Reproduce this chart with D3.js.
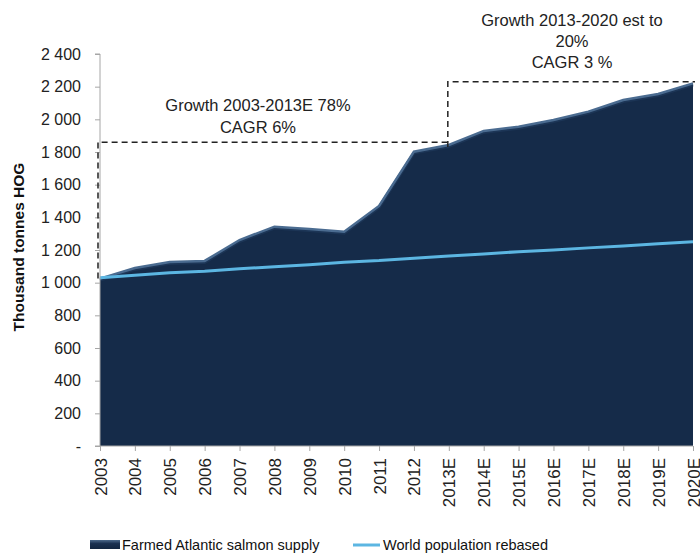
<!DOCTYPE html>
<html>
<head>
<meta charset="utf-8">
<script src="https://cdn.jsdelivr.net/npm/d3@7"></script>
<style>
body { margin: 0; background: #fff; }
svg { font-family: "Liberation Sans", Arial, sans-serif; }
</style>
</head>
<body>
<svg class="chart"></svg>
<script>
var width = 700;
var height = 553;

var margin = {
    top: 54,
    right: 7,
    bottom: 107,
    left: 100
};

var years = ["2003", "2004", "2005", "2006", "2007", "2008", "2009", "2010", "2011", "2012",
    "2013E", "2014E", "2015E", "2016E", "2017E", "2018E", "2019E", "2020E"];
var salmon = [1025, 1090, 1127, 1133, 1261, 1343, 1329, 1312, 1470, 1802,
    1843, 1929, 1955, 1996, 2047, 2118, 2155, 2220];
var population = [1030, 1045, 1060, 1070, 1085, 1098, 1110, 1125, 1135, 1150,
    1163, 1175, 1190, 1200, 1213, 1225, 1238, 1250];
var yTicks = [0, 200, 400, 600, 800, 1000, 1200, 1400, 1600, 1800, 2000, 2200, 2400];
var yTickLabels = ["-", "200", "400", "600", "800", "1 000", "1 200", "1 400", "1 600", "1 800", "2 000", "2 200", "2 400"];
// growth boxes: [start year, end year, level]
var boxes = [["2003", "2013E", 1860], ["2013E", "2020E", 2230]];
var notes1 = ["Growth 2003-2013E 78%", "CAGR 6%"];
var notes2 = ["Growth 2013-2020 est to", "20%", "CAGR 3 %"];
var legendNames = ["Farmed Atlantic salmon supply", "World population rebased"];

var chart = d3.select(".chart")
    .attr("width", width)
    .attr("height", height);

var x = d3.scalePoint()
    .domain(years)
    .range([margin.left, width - margin.right]);

var y = d3.scaleLinear()
    .domain([0, 2400])
    .range([height - margin.bottom, margin.top]);

var defs = chart.append("defs");
var grad = defs.append("linearGradient")
    .attr("id", "swatch")
    .attr("x1", 0).attr("y1", 0).attr("x2", 0).attr("y2", 1);
grad.append("stop").attr("offset", "0%").attr("stop-color", "#4d6a8c");
grad.append("stop").attr("offset", "40%").attr("stop-color", "#1a3050");
grad.append("stop").attr("offset", "100%").attr("stop-color", "#122540");

var area = d3.area()
    .x(function(d, i) { return x(years[i]); })
    .y0(y(0))
    .y1(function(d) { return y(d); });

var line = d3.line()
    .x(function(d, i) { return x(years[i]); })
    .y(function(d) { return y(d); });

chart.append("path")
    .datum(salmon)
    .attr("d", area)
    .attr("fill", "#152b49");

// bevel highlight on top edge
chart.append("path")
    .datum(salmon.map(function(d) { return d - 9; }))
    .attr("d", line)
    .attr("fill", "none")
    .attr("stroke", "#1c3556")
    .attr("stroke-width", 3);
chart.append("path")
    .datum(salmon)
    .attr("d", line)
    .attr("fill", "none")
    .attr("stroke", "#4a6b90")
    .attr("stroke-width", 2.5);

chart.append("path")
    .datum(population)
    .attr("d", line)
    .attr("fill", "none")
    .attr("stroke", "#5cb6e2")
    .attr("stroke-width", 3);

// y axis
var yAxis = d3.axisLeft(y)
    .tickValues(yTicks)
    .tickSize(5)
    .tickPadding(14)
    .tickFormat(function(d, i) { return yTickLabels[i]; });

var gy = chart.append("g")
    .attr("transform", "translate(" + margin.left + ",0)")
    .call(yAxis);
gy.select(".domain").attr("stroke", "#a6a6a6").attr("d", "M-5," + y(2400) + "H0V" + y(0) + "H-5");
gy.selectAll(".tick line").attr("stroke", "#a6a6a6");
gy.selectAll(".tick text")
    .attr("fill", "#222")
    .style("font-size", "16px");

// x axis
var xAxis = d3.axisBottom(x)
    .tickSize(5)
    .tickPadding(6);

var gx = chart.append("g")
    .attr("transform", "translate(0," + y(0) + ")")
    .call(xAxis);
gx.select(".domain").attr("stroke", "#a6a6a6").attr("d", "M" + margin.left + ",0H" + (width - margin.right));
gx.selectAll(".tick line").attr("stroke", "#a6a6a6");
gx.selectAll(".tick text")
    .attr("fill", "#222")
    .style("font-size", "17px")
    .attr("text-anchor", "end")
    .attr("dy", null)
    .attr("transform", "translate(0,12) rotate(-90)")
    .attr("x", 0)
    .attr("y", 6);

// y title
chart.append("text")
    .attr("transform", "translate(24," + 247 + ") rotate(-90)")
    .attr("text-anchor", "middle")
    .style("font-size", "15.5px")
    .style("font-weight", "bold")
    .attr("fill", "#111")
    .text("Thousand tonnes HOG");

// growth boxes
boxes.forEach(function(b, i) {
    var x0 = x(b[0]) - (i === 0 ? 2 : 1);
    var x1 = x(b[1]) + (i === 0 ? 1 : 2);
    var yBase = i === 0 ? y(salmon[0]) : y(salmon[10]) + 2;
    chart.append("path")
        .attr("d", "M" + x0 + "," + yBase + "V" + y(b[2]) + "H" + x1)
        .attr("fill", "none")
        .attr("stroke", "#222")
        .attr("stroke-width", 1.5)
        .attr("stroke-dasharray", "6,4");
});

var t1 = chart.append("text")
    .attr("text-anchor", "middle")
    .style("font-size", "16.5px")
    .attr("fill", "#222");
notes1.forEach(function(s, i) {
    t1.append("tspan").attr("x", 258).attr("y", 111 + i * 22).text(s);
});

var t2 = chart.append("text")
    .attr("text-anchor", "middle")
    .style("font-size", "16.5px")
    .attr("fill", "#222");
notes2.forEach(function(s, i) {
    t2.append("tspan").attr("x", 572).attr("y", 26 + i * 21).text(s);
});

// legend
var lg = chart.append("g").attr("transform", "translate(0,545)");
lg.append("rect")
    .attr("x", 90).attr("y", -5).attr("width", 30).attr("height", 9)
    .attr("fill", "url(#swatch)");
lg.append("text")
    .attr("x", 122).attr("y", 5)
    .style("font-size", "14.5px")
    .attr("fill", "#111")
    .text(legendNames[0]);
lg.append("line")
    .attr("x1", 353).attr("x2", 380).attr("y1", 0).attr("y2", 0)
    .attr("stroke", "#5cb6e2").attr("stroke-width", 3);
lg.append("text")
    .attr("x", 383).attr("y", 5)
    .style("font-size", "14.5px")
    .attr("fill", "#111")
    .text(legendNames[1]);
</script>
</body>
</html>
